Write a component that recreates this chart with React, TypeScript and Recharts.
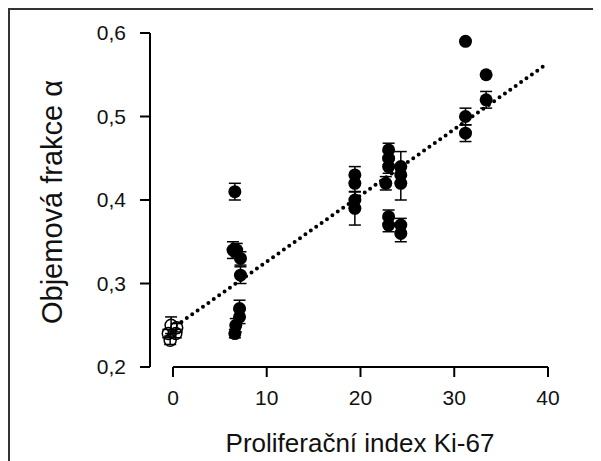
import { ScatterChart, Scatter, XAxis, YAxis, ErrorBar, ReferenceLine } from 'recharts';

// Ki-67 index vs. volume fraction alpha (filled = tumours, open = controls)
const kiFilled = [6.6, 6.4, 6.8, 7.2, 7.2, 7.1, 7.1, 6.7, 6.6, 19.4, 19.4, 19.4, 19.4, 23.0, 23.0, 23.0, 22.7, 23.0, 23.0, 24.3, 24.3, 24.3, 24.3, 24.3, 31.2, 33.4, 33.4, 31.2, 31.2];
const alphaFilled = [0.41, 0.34, 0.34, 0.33, 0.31, 0.27, 0.26, 0.25, 0.24, 0.43, 0.42, 0.40, 0.39, 0.46, 0.45, 0.44, 0.42, 0.38, 0.37, 0.44, 0.43, 0.42, 0.37, 0.36, 0.59, 0.55, 0.52, 0.50, 0.48];
const errFilled = [0.01, 0.01, 0.008, 0.008, 0.01, 0.01, 0.008, 0.008, 0.005, 0.01, 0.01, 0.01, 0.02, 0.008, 0.008, 0.008, 0.008, 0.008, 0.008, 0.018, 0.01, 0.02, 0.008, 0.01, 0, 0, 0.01, 0.01, 0.01];

const kiOpen = [-0.2, -0.5, 0.3, -0.3, 0.4];
const alphaOpen = [0.25, 0.24, 0.24, 0.232, 0.247];
const errOpen = [0.01, 0.005, 0.005, 0.005, 0.005];

// regression line end points
const fitX = [0.9, 39.5];
const fitY = [0.254, 0.56];

const xTicks = [0, 10, 20, 30, 40];
const yTicks = [0.2, 0.3, 0.4, 0.5, 0.6];

const filled = kiFilled.map((x, i) => ({ x, y: alphaFilled[i], err: errFilled[i] }));
const open = kiOpen.map((x, i) => ({ x, y: alphaOpen[i], err: errOpen[i] }));

const font = '"Liberation Sans", Arial, sans-serif';

const Dot = (props: any) => <circle cx={props.cx} cy={props.cy} r={6.5} fill="#000" />;
const OpenDot = (props: any) => (
    <circle cx={props.cx} cy={props.cy} r={6} fill="none" stroke="#000" strokeWidth={1.5} />
);

const yLabel = () => (
    <text
        x={52}
        y={192}
        transform="rotate(-90 52 192)"
        textAnchor="middle"
        fontSize={29}
        fontFamily={font}
        fill="#111"
    >
        Objemová frakce α
    </text>
);

const xLabel = () => (
    <text x={350} y={442} textAnchor="middle" fontSize={26} fontFamily={font} fill="#111">
        Proliferační index Ki-67
    </text>
);

export default function App() {
    return (
        <div
            style={{
                position: 'relative',
                width: 593,
                height: 453,
                borderTop: '2px solid #333',
                borderLeft: '2px solid #333',
                background: '#fff'
            }}
        >
            <ScatterChart width={593} height={453} margin={{ top: 23, right: 55, left: 0, bottom: 0 }}>
                <XAxis
                    type="number"
                    dataKey="x"
                    domain={[-2.45, 40]}
                    ticks={xTicks}
                    axisLine={false}
                    tickLine={{ stroke: '#000', strokeWidth: 2 }}
                    tickSize={10}
                    tickMargin={13}
                    height={96}
                    tick={{ fill: '#111', fontSize: 21, fontFamily: font }}
                    label={xLabel}
                />
                <YAxis
                    type="number"
                    dataKey="y"
                    domain={[0.2, 0.6]}
                    ticks={yTicks}
                    width={140}
                    axisLine={{ stroke: '#000', strokeWidth: 2 }}
                    tickLine={{ stroke: '#000', strokeWidth: 2 }}
                    tickSize={10}
                    tickMargin={14}
                    tickFormatter={(v: number) => v.toFixed(1).replace('.', ',')}
                    tick={{ fill: '#111', fontSize: 21, fontFamily: font }}
                    label={yLabel}
                />
                <ReferenceLine
                    segment={[{ x: 0, y: 0.2 }, { x: 40, y: 0.2 }]}
                    stroke="#000"
                    strokeWidth={2}
                />
                <ReferenceLine
                    segment={[{ x: fitX[0], y: fitY[0] }, { x: fitX[1], y: fitY[1] }]}
                    stroke="#000"
                    strokeWidth={4}
                    strokeDasharray="0 6.6"
                    strokeLinecap="round"
                />
                <Scatter data={open} shape={OpenDot} isAnimationActive={false}>
                    <ErrorBar dataKey="err" direction="y" width={6} stroke="#000" strokeWidth={1.5} />
                </Scatter>
                <Scatter data={filled} shape={Dot} isAnimationActive={false}>
                    <ErrorBar dataKey="err" direction="y" width={6} stroke="#000" strokeWidth={1.5} />
                </Scatter>
            </ScatterChart>
        </div>
    );
}
